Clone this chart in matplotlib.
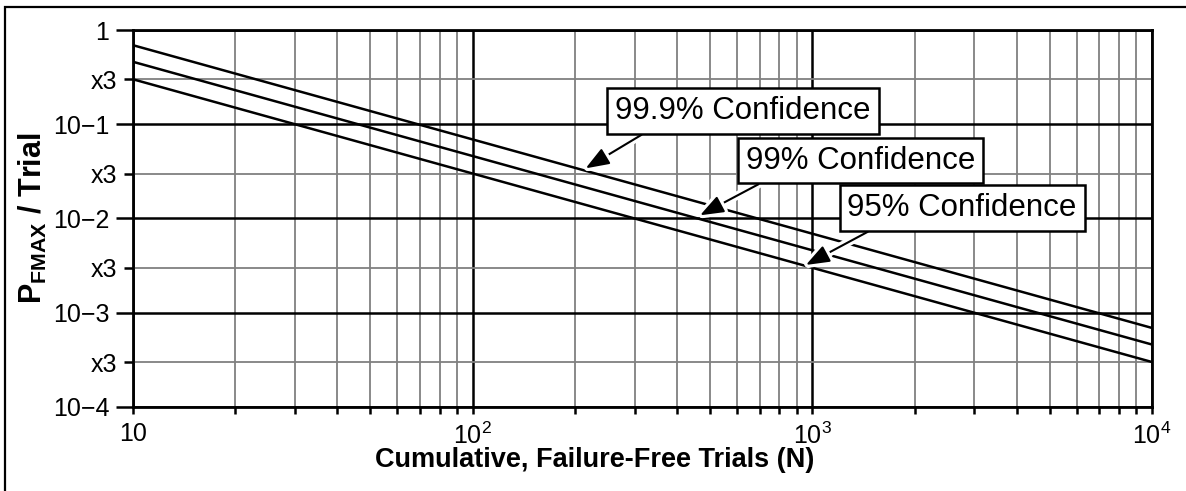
import matplotlib
matplotlib.use("Agg")
import matplotlib.pyplot as plt
import matplotlib.patheffects as pe
from matplotlib.patches import Rectangle
from matplotlib.ticker import FixedLocator, FixedFormatter, NullFormatter

plt.rcParams["font.family"] = ["Liberation Sans", "DejaVu Sans"]
plt.rcParams["mathtext.default"] = "regular"

# cumulative failure-free trials and the max failure probability per trial
trials = [10, 100, 1000, 10000]
p_95 = [0.30, 0.030, 0.0030, 0.00030]
p_99 = [0.46, 0.046, 0.0046, 0.00046]
p_999 = [0.69, 0.069, 0.0069, 0.00069]

y_major = [1e-4, 1e-3, 1e-2, 1e-1, 1]
y_major_labels = ["10\u22124", "10\u22123", "10\u22122", "10\u22121", "1"]
y_minor = [3e-4, 3e-3, 3e-2, 3e-1]
y_minor_labels = ["x3", "x3", "x3", "x3"]
x_major = [10, 100, 1000, 10000]
x_major_labels = ["10", r"$10^{2}$", r"$10^{3}$", r"$10^{4}$"]
x_minor = [m * d for d in (10, 100, 1000) for m in range(2, 10)]

# callouts: text, arrow tip (N, P), box centre (N, P), arrow start along box bottom
callouts = [
    ("99.9% Confidence", (215, 0.034), (625, 0.138), 0.16),
    ("99% Confidence", (467, 0.0108), (1390, 0.0412), 0.125),
    ("95% Confidence", (957, 0.00321), (2760, 0.0129), 0.16),
]

fig = plt.figure(figsize=(11.86, 4.91), dpi=100)
ax = fig.add_axes([0.1121, 0.1711, 0.8592, 0.7678])

for vals in (p_95, p_99, p_999):
    ax.plot(trials, vals, color="black", lw=1.8, zorder=3, solid_capstyle="butt")

ax.set_xscale("log")
ax.set_yscale("log")
ax.set_xlim(10, 10000)
ax.set_ylim(1e-4, 1)

ax.xaxis.set_major_locator(FixedLocator(x_major))
ax.xaxis.set_major_formatter(FixedFormatter(x_major_labels))
ax.xaxis.set_minor_locator(FixedLocator(x_minor))
ax.xaxis.set_minor_formatter(NullFormatter())
ax.yaxis.set_major_locator(FixedLocator(y_major))
ax.yaxis.set_major_formatter(FixedFormatter(y_major_labels))
ax.yaxis.set_minor_locator(FixedLocator(y_minor))
ax.yaxis.set_minor_formatter(FixedFormatter(y_minor_labels))

ax.grid(True, which="major", color="black", lw=1.8, zorder=1)
ax.grid(True, which="minor", color="#808080", lw=1.3, zorder=1)
ax.set_axisbelow(True)

ax.tick_params(axis="y", which="major", length=12, width=1.8, pad=5, labelsize=18)
ax.tick_params(axis="y", which="minor", length=6.5, width=1.8, pad=5, labelsize=18)
ax.tick_params(axis="x", which="both", length=5, width=1.8, pad=6, labelsize=18)

for side, sp in ax.spines.items():
    sp.set_linewidth(2)
    sp.set_color("black")

halo = [pe.withStroke(linewidth=6, foreground="white")]
for text, tip, box, rx in callouts:
    ax.annotate(
        text, xy=tip, xytext=box, ha="center", va="center",
        fontsize=22.5, zorder=5,
        bbox=dict(boxstyle="square,pad=0.25", fc="white", ec="black", lw=1.8),
        arrowprops=dict(arrowstyle="-|>,head_length=0.64,head_width=0.24",
                        color="black", lw=1.5, relpos=(rx, 0.0),
                        shrinkA=0, shrinkB=0, path_effects=halo),
    )

fig.text(33 / 1186, 1 - 218 / 491, r"$P_{FMAX}$ / Trial", rotation=90,
         ha="center", va="center", fontsize=22, fontweight="bold")
fig.text(595 / 1186, 1 - 460 / 491, "Cumulative, Failure-Free Trials (N)",
         ha="center", va="center", fontsize=19.5, fontweight="bold")

fig.patches.append(Rectangle((5 / 1186, -0.1), 1.2, 1.1 - 7 / 491,
                             transform=fig.transFigure, fill=False,
                             ec="black", lw=1.6))

fig.savefig("out.png", dpi=100)
